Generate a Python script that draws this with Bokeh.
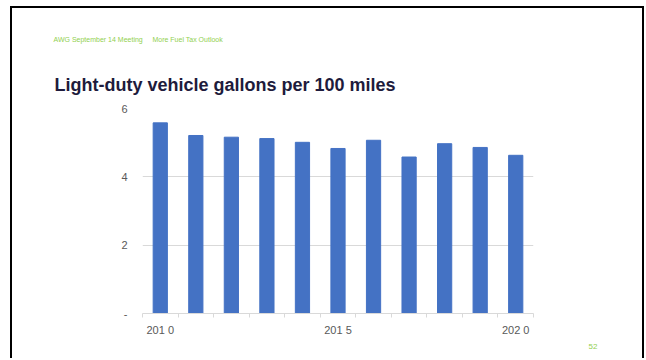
from bokeh.plotting import figure
from bokeh.models import FixedTicker, Title
from bokeh.embed import file_html
from bokeh.resources import INLINE

years = [2010, 2011, 2012, 2013, 2014, 2015, 2016, 2017, 2018, 2019, 2020]
gallons = [5.58, 5.21, 5.16, 5.12, 5.01, 4.83, 5.07, 4.58, 4.97, 4.86, 4.63]
x_tick_labels = {2010: "201 0", 2015: "201 5", 2020: "202 0"}
y_tick_labels = {0: "-", 2: "2", 4: "4", 6: "6"}
title_text = "Light-duty vehicle gallons per 100 miles"
header_left = "AWG September 14 Meeting"
header_right = "More Fuel Tax Outlook"
page_number = "52"

W, H = 634, 352
p = figure(width=W, height=H, output_backend="svg", toolbar_location=None,
           x_range=(years[0] - 0.5, years[-1] + 0.5), y_range=(0, 6),
           min_border_left=130, min_border_right=113,
           min_border_top=100, min_border_bottom=47)
p.styles = {"margin-left": "10px", "margin-top": "6px",
            "border-left": "2px solid black", "border-right": "2px solid black",
            "border-top": "2px solid black"}
p.outline_line_color = None
p.background_fill_color = "white"
p.border_fill_color = "white"

p.vbar(x=years, top=gallons, width=0.4, color="#4472C4")

# x axis
xa = p.xaxis[0]
xa.ticker = FixedTicker(ticks=list(x_tick_labels.keys()),
                        minor_ticks=[y - 0.5 for y in years] + [years[-1] + 0.5])
xa.major_label_overrides = {k: v for k, v in x_tick_labels.items()}
xa.major_tick_out = 0
xa.major_tick_in = 0
xa.minor_tick_out = 4
xa.minor_tick_in = 0
xa.minor_tick_line_color = "#d9d9d9"
xa.axis_line_color = "#d9d9d9"
xa.major_label_text_font = "Liberation Sans"
xa.major_label_text_font_size = "11px"
xa.major_label_text_color = "#595959"
xa.major_label_standoff = 6

ya = p.yaxis[0]
ya.ticker = FixedTicker(ticks=list(y_tick_labels.keys()))
ya.major_label_overrides = {k: v for k, v in y_tick_labels.items()}
ya.axis_line_color = None
ya.major_tick_line_color = None
ya.minor_tick_line_color = None
ya.major_label_text_font = "Liberation Sans"
ya.major_label_text_font_size = "11px"
ya.major_label_text_color = "#595959"
ya.major_label_standoff = 9

p.xgrid.grid_line_color = None
p.ygrid.grid_line_color = "#d9d9d9"
p.ygrid.ticker = FixedTicker(ticks=[2, 4, 6])

gap = "\u00a0" * 5
main_title = Title(text=title_text, align="left", offset=-88, standoff=27,
                   text_font="Liberation Sans", text_font_size="18px",
                   text_font_style="bold", text_color="#1E1B3C")
header = Title(text=header_left + gap + header_right, align="left", offset=-89,
               standoff=33, text_font="Liberation Sans", text_font_size="7px",
               text_font_style="normal", text_color="#92D050")
p.add_layout(main_title, "above")
p.add_layout(header, "above")
page = Title(text=page_number, align="left", offset=446, standoff=7,
             text_font="Liberation Sans", text_font_size="8px",
             text_font_style="normal", text_color="#92D050")
p.add_layout(page, "below")

open("out.html", "w").write(file_html(p, INLINE))
